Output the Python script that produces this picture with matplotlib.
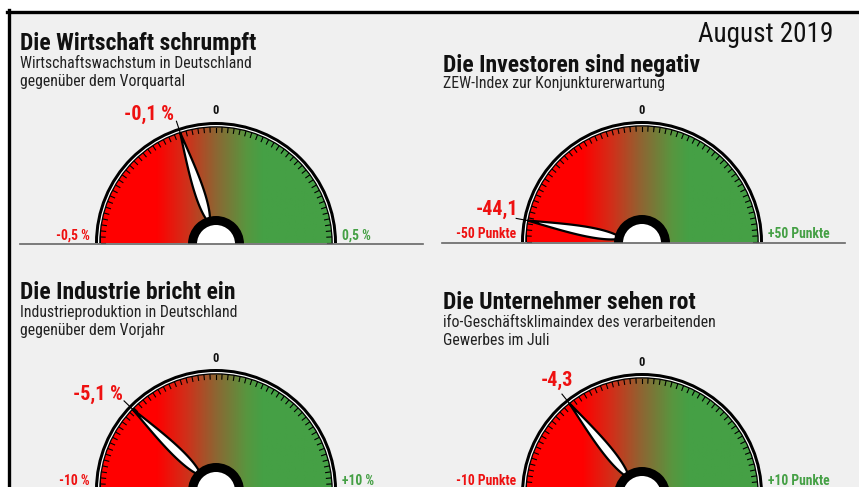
import numpy as np
import matplotlib
matplotlib.use("Agg")
import matplotlib.pyplot as plt
from matplotlib.patches import Wedge, Polygon, Rectangle
from matplotlib.colors import LinearSegmentedColormap
from matplotlib.lines import Line2D

# ---------------- data ----------------
titles = ["Die Wirtschaft schrumpft", "Die Investoren sind negativ",
          "Die Industrie bricht ein", "Die Unternehmer sehen rot"]
subtitles = ["Wirtschaftswachstum in Deutschland\ngegenüber dem Vorquartal",
             "ZEW-Index zur Konjunkturerwartung",
             "Industrieproduktion in Deutschland\ngegenüber dem Vorjahr",
             "ifo-Geschäftsklimaindex des verarbeitenden\nGewerbes im Juli"]
values = [-0.1, -44.1, -5.1, -4.3]
limits = [0.5, 50, 10, 10]
value_labels = ["-0,1 %", "-44,1", "-5,1 %", "-4,3"]
min_labels = ["-0,5 %", "-50 Punkte", "-10 %", "-10 Punkte"]
max_labels = ["0,5 %", "+50 Punkte", "+10 %", "+10 Punkte"]
zero_label = "0"
date_label = "August 2019"

# ---------------- layout (pixels) ----------------
W, H = 859, 487
FONT = ["Roboto Condensed", "Liberation Sans Narrow", "DejaVu Sans Condensed", "Roboto", "DejaVu Sans"]
plt.rcParams["font.family"] = FONT

RED = "#ff0000"
GREEN = "#45a045"
LBL_RED = "#ee1111"

panels = [
    dict(cx=216, cy=243, tx=20, ty=50, sy=68, line=(20, 423), vlab=(149, 114), zero_y=111, lab_y=236),
    dict(cx=642, cy=242, tx=443, ty=72, sy=88, line=(442, 845), vlab=(497, 209), zero_y=110, lab_y=234),
    dict(cx=216, cy=490, tx=20, ty=299, sy=317, line=(20, 423), vlab=(98, 394), zero_y=359, lab_y=481),
    dict(cx=642, cy=494, tx=443, ty=309, sy=327, line=(442, 845), vlab=(557, 380), zero_y=362, lab_y=481),
]
R_OUT = 121
R_FILL = 115.5

fig = plt.figure(figsize=(W / 100, H / 100), dpi=100)
fig.patch.set_facecolor("white")
ax = fig.add_axes([0, 0, 1, 1])
ax.axis("off")

ax.add_patch(Rectangle((8.5, 11.5), W, H, facecolor="#f0f0f0", edgecolor="none", zorder=0))
ax.add_line(Line2D([7, W], [11.5, 11.5], color="black", lw=2.4, zorder=1))
ax.add_line(Line2D([8.5, 8.5], [10.3, H], color="black", lw=2.4, zorder=1))

cmap = LinearSegmentedColormap.from_list(
    "g", [(0.0, RED), (0.24, RED), (0.37, "#d0301a"), (0.5, "#8c6733"),
          (0.63, "#58963f"), (0.7, GREEN), (1.0, GREEN)])

sub_lh = 18


def pt(cx, cy, r, phi):
    return cx + r * np.cos(phi), cy - r * np.sin(phi)


for i, p in enumerate(panels):
    cx, cy = p["cx"], p["cy"]
    ax.text(p["tx"], p["ty"], titles[i], fontsize=17, fontweight="bold",
            color="#111111", ha="left", va="baseline", zorder=5)
    for k, line in enumerate(subtitles[i].split("\n")):
        ax.text(p["tx"], p["sy"] + k * sub_lh, line, fontsize=11.3, color="#222222",
                ha="left", va="baseline", zorder=5)
    ax.add_line(Line2D(list(p["line"]), [cy + 0.5, cy + 0.5], color="#666666", lw=1.2, zorder=8))

    ax.add_patch(Wedge((cx, cy), R_OUT, 180, 360, facecolor="black", edgecolor="none", zorder=2))
    ax.add_patch(Wedge((cx, cy), R_OUT - 3, 180, 360, facecolor="white", edgecolor="none", zorder=2))
    ax.add_patch(Wedge((cx, cy), R_OUT - 4.2, 180, 360, facecolor="black", edgecolor="none", zorder=2))
    fill = Wedge((cx, cy), R_FILL, 180, 360, facecolor="none", edgecolor="none", zorder=3)
    ax.add_patch(fill)
    grad = np.linspace(0, 1, 256).reshape(1, -1)
    im = ax.imshow(grad, extent=(cx - R_FILL, cx + R_FILL, cy, cy - R_FILL),
                   cmap=cmap, aspect="auto", zorder=3, interpolation="bilinear")
    im.set_clip_path(fill)

    for a in np.arange(0, 181, 3):
        phi = np.deg2rad(a)
        x0, y0 = pt(cx, cy, R_FILL - 4.5, phi)
        x1, y1 = pt(cx, cy, R_FILL, phi)
        ax.add_line(Line2D([x0, x1], [y0, y1], color="black", lw=0.8, zorder=4))

    v = values[i]
    phi = np.deg2rad(90 - 90 * v / limits[i])
    r0, r1 = 22, R_FILL + 1
    t = np.linspace(0, 1, 60)
    w = 4.8 * np.sin(np.pi * t ** 0.62)
    rr = r0 + (r1 - r0) * t
    ux, uy = np.cos(phi), -np.sin(phi)
    nx, ny = -uy, ux
    left = np.column_stack([cx + rr * ux + w * nx, cy + rr * uy + w * ny])
    right = np.column_stack([cx + rr * ux - w * nx, cy + rr * uy - w * ny])
    poly = np.vstack([left, right[::-1]])
    ax.add_patch(Polygon(poly, closed=True, facecolor="white", edgecolor="black", lw=1.6,
                         joinstyle="miter", zorder=5))
    xa, ya = pt(cx, cy, R_FILL, phi)
    xb, yb = pt(cx, cy, R_OUT + 7, phi)
    ax.add_line(Line2D([xa, xb], [ya, yb], color="black", lw=0.8, zorder=6))

    ax.add_patch(Wedge((cx, cy + 1), 28, 180, 360, facecolor="black", edgecolor="none", zorder=6))
    ax.add_patch(Wedge((cx, cy + 1), 19, 180, 360, facecolor="white", edgecolor="none", zorder=7))

    ax.text(cx, p["zero_y"], zero_label, fontsize=9, fontweight="bold", color="#111111",
            ha="center", va="center", zorder=6)
    ax.text(cx - R_OUT - 5, p["lab_y"], min_labels[i], fontsize=9.8, fontweight="bold", color=LBL_RED,
            ha="right", va="center", zorder=6)
    ax.text(cx + R_OUT + 5, p["lab_y"], max_labels[i], fontsize=9.8, fontweight="bold", color=GREEN,
            ha="left", va="center", zorder=6)
    ax.text(p["vlab"][0], p["vlab"][1], value_labels[i], fontsize=14.5, fontweight="bold",
            color=LBL_RED, ha="center", va="center", zorder=6)

ax.text(833, 42, date_label, fontsize=19.5, color="#111111", ha="right", va="baseline", zorder=6)

ax.set_xlim(0, W)
ax.set_ylim(H, 0)
fig.savefig("out.png", dpi=100, facecolor=fig.get_facecolor())
